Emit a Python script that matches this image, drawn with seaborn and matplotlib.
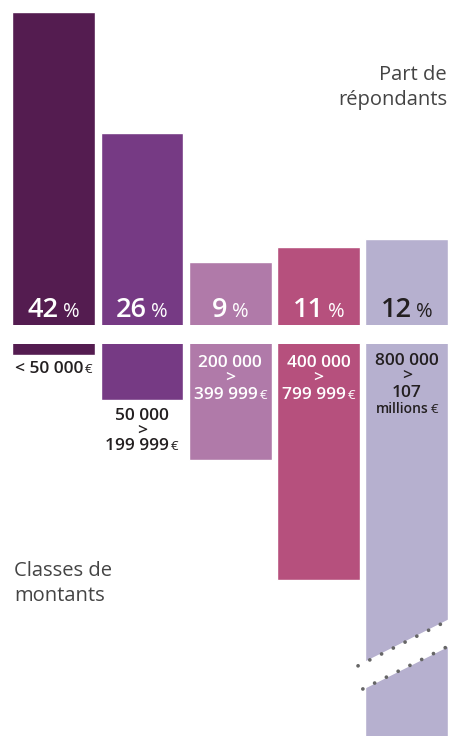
import matplotlib
matplotlib.use("Agg")
import matplotlib.pyplot as plt
import matplotlib.transforms as mtransforms
import seaborn as sns
import pandas as pd

# data
classes = ["< 50 000 €", "50 000 > 199 999 €", "200 000 > 399 999 €",
           "400 000 > 799 999 €", "800 000 > 107 millions €"]
share_pct = [42, 26, 9, 11, 12]
upper_bound_eur = [50000, 200000, 400000, 800000, 107000000]
class_lines = [
    ["< 50 000 €"],
    ["50 000", ">", "199 999 €"],
    ["200 000", ">", "399 999 €"],
    ["400 000", ">", "799 999 €"],
    ["800 000", ">", "107", "millions €"],
]

palette = ["#541c50", "#763a84", "#b07aa9", "#b6507d", "#b6b0cf"]
pct_colors = ["white", "white", "white", "white", "#231f20"]
cls_colors = ["#231f20", "#231f20", "white", "white", "#231f20"]

sns.set_theme(style="white")
plt.rcParams["font.family"] = ["Open Sans", "DejaVu Sans"]

df = pd.DataFrame({"classe": classes, "part": share_pct, "borne": upper_bound_eur})

W, H = 451, 736
fig = plt.figure(figsize=(W / 100, H / 100), dpi=100)
renderer = fig.canvas.get_renderer()
bw = 0.939

ax_top = fig.add_axes([12.3 / W, (H - 325) / H, 436 / W, 313 / H])
ax_bot = fig.add_axes([12.3 / W, 0, 436 / W, (H - 344) / H])

sns.barplot(df, x="classe", y="part", hue="classe", palette=palette,
            width=bw, legend=False, saturation=1, ax=ax_top)
sns.barplot(df, x="classe", y="borne", hue="classe", palette=palette,
            width=bw, legend=False, saturation=1, ax=ax_bot)

for ax in (ax_top, ax_bot):
    ax.set_xlim(-bw / 2, len(classes) - 1 + bw / 2)
    ax.axis("off")
ax_top.set_ylim(0.69, 42)
ax_bot.set_ylim(1319700, 13000)


def put_text(ax, x, y, dy, parts, color, trans, gap=3):
    # parts: list of (text, size, weight); centred as a group on x
    arts = [ax.text(x, y, s, transform=trans, ha="left", va="baseline",
                    fontsize=size, fontweight=weight, color=color)
            for s, size, weight in parts if s]
    widths = [a.get_window_extent(renderer).width for a in arts]
    dx = -(sum(widths) + gap * (len(arts) - 1)) / 2
    for a, w in zip(arts, widths):
        a.set_transform(mtransforms.offset_copy(trans, fig=fig, x=dx, y=dy, units="dots"))
        dx += w + gap


# percentages inside the upper bars
top_trans = mtransforms.blended_transform_factory(ax_top.transData, ax_top.transAxes)
for i, v in enumerate(share_pct):
    put_text(ax_top, i, 0, 8, [(str(v), 19.5, "semibold"), ("%", 14.5, "normal")],
             pct_colors[i], top_trans, gap=4)

# amount classes on the lower bars
for i, lines in enumerate(class_lines):
    if i < 2:
        y0 = upper_bound_eur[i]
        offs = [-18] if i == 0 else [-20, -35, -50]
    else:
        y0 = 13000
        offs = [-23, -38, -55] if i < 4 else [-21, -36, -53, -69]
    for line, dy in zip(lines, offs):
        main, euro = (line[:-2], "€") if line.endswith(" €") else (line, "")
        size = 10 if main == "millions" else 12.5
        put_text(ax_bot, i, y0, dy, [(main, size, "semibold"), (euro, 9.5, "normal")],
                 cls_colors[i], ax_bot.transData, gap=2)

# axis break on the last (truncated) bar
ta = ax_bot.transAxes
up = [(0.793, 0.179), (1.005, 0.298)]
lo = [(0.804, 0.120), (1.005, 0.232)]
ax_bot.fill([up[0][0], up[1][0], lo[1][0], lo[0][0]],
            [up[0][1], up[1][1], lo[1][1], lo[0][1]],
            color="white", transform=ta, clip_on=False, zorder=5)
for seg in (up, lo):
    ax_bot.plot([seg[0][0], seg[1][0]], [seg[0][1], seg[1][1]], transform=ta,
                color="#666666", lw=2.7, linestyle=(0, (0.01, 3.5)),
                dash_capstyle="round", clip_on=False, zorder=6)

# axis titles
fig.text(447 / W, (H - 80) / H, "Part de", ha="right", va="baseline",
         fontsize=14.5, color="#444444")
fig.text(447 / W, (H - 105) / H, "répondants", ha="right", va="baseline",
         fontsize=14.5, color="#444444")
fig.text(14.5 / W, (H - 576) / H, "Classes de", ha="left", va="baseline",
         fontsize=14.5, color="#444444")
fig.text(14.5 / W, (H - 601) / H, "montants", ha="left", va="baseline",
         fontsize=14.5, color="#444444")

fig.savefig("out.png", dpi=100, facecolor="white")
